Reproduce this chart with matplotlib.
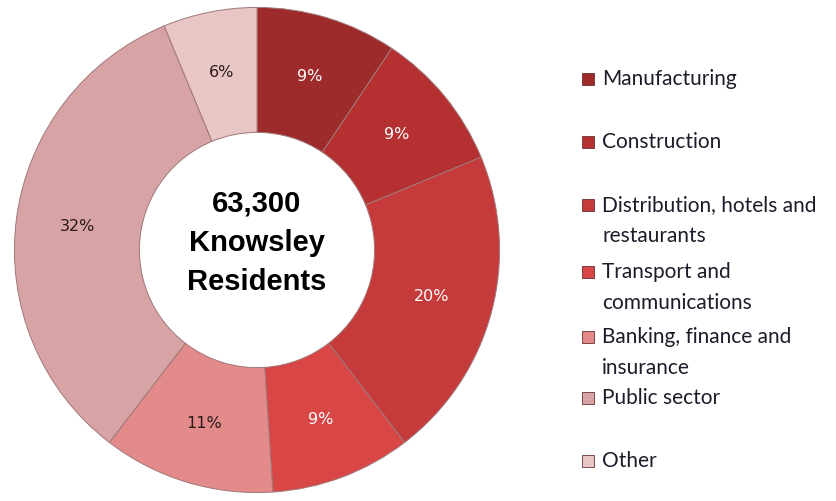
import numpy as np
import matplotlib.pyplot as plt
from matplotlib.patches import Rectangle

# sectors of employment, clockwise from the top
sectors = ["Manufacturing", "Construction", "Distribution, hotels and\nrestaurants",
           "Transport and\ncommunications", "Banking, finance and\ninsurance",
           "Public sector", "Other"]
shares = [9, 9, 20, 9, 11, 32, 6]
colors = ["#9e2b2b", "#b53131", "#c53a3a", "#d84646", "#e38a8a", "#d8a3a4", "#e9c6c6"]
label_colors = ["white", "white", "white", "white", "#2a1a1a", "#2a1a1a", "#2a1a1a"]
centre_text = "63,300\nKnowsley\nResidents"

fig = plt.figure(figsize=(8.36, 5.01), dpi=100)
W, H = 836, 501
cx, cy, R = 257, 251, 245
ax = fig.add_axes([(cx - R) / W, (cy - R) / H, 2 * R / W, 2 * R / H])
ax.set_aspect("equal")

wedges, _ = ax.pie(shares, colors=colors, startangle=90, counterclock=False,
                   radius=0.99,
                   wedgeprops=dict(width=0.51, edgecolor="#a07878", linewidth=0.7))
ax.set_xlim(-1, 1)
ax.set_ylim(-1, 1)

for w, v, c in zip(wedges, shares, label_colors):
    ang = np.deg2rad((w.theta1 + w.theta2) / 2)
    r = 0.74
    ax.text(r * np.cos(ang), r * np.sin(ang), f"{v}%", ha="center", va="center",
            color=c, fontsize=11.5, family="DejaVu Sans")

ax.text(0, 0.03, centre_text, ha="center", va="center", fontsize=21,
        fontweight="bold", family="Liberation Sans", linespacing=1.5)

# legend drawn by hand (Excel style spacing)
legend_y = [79, 142, 205, 272, 337, 398, 461]
for name, col, y in zip(sectors, colors, legend_y):
    fig.patches.append(Rectangle((582 / W, 1 - (y + 6) / H), 12 / W, 12 / H,
                                 transform=fig.transFigure, facecolor=col,
                                 edgecolor="#6a3030", linewidth=0.6))
    for i, part in enumerate(name.split("\n")):
        fig.text(602 / W, 1 - (y + i * 31) / H, part, ha="left", va="center",
                 fontsize=15, family="Lato", color="#1c1c2a")

fig.savefig("out.png", dpi=100)
